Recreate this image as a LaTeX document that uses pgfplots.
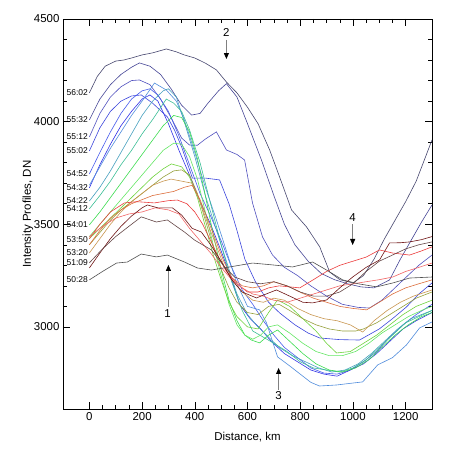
\documentclass[border=0pt]{standalone}
\usepackage{fontspec}
\setmainfont{Liberation Sans}
\usepackage{pgfplots}
\pgfplotsset{compat=1.18}
\usetikzlibrary{arrows.meta}
\definecolor{c1}{RGB}{70,70,110}
\definecolor{c2}{RGB}{70,70,150}
\definecolor{c3}{RGB}{80,80,190}
\definecolor{c4}{RGB}{60,70,220}
\definecolor{c5}{RGB}{70,90,235}
\definecolor{c6}{RGB}{50,50,230}
\definecolor{c7}{RGB}{80,140,220}
\definecolor{c8}{RGB}{70,160,190}
\definecolor{c9}{RGB}{60,190,150}
\definecolor{c10}{RGB}{60,220,80}
\definecolor{c11}{RGB}{100,230,100}
\definecolor{c12}{RGB}{110,210,60}
\definecolor{c13}{RGB}{150,160,60}
\definecolor{c14}{RGB}{200,150,80}
\definecolor{c15}{RGB}{220,110,60}
\definecolor{c16}{RGB}{235,60,60}
\definecolor{c17}{RGB}{240,100,100}
\definecolor{c18}{RGB}{110,20,20}
\definecolor{c19}{RGB}{100,70,70}
\definecolor{c20}{RGB}{80,80,80}
\newcommand{\tickfont}{\fontsize{11.5}{12}\selectfont}
\newcommand{\timefont}{\fontsize{8.5}{9}\selectfont}

\begin{document}
\begin{tikzpicture}[
  tlab/.style={anchor=east, font=\timefont, inner sep=0.8bp},
  arr/.style={gray, line width=0.8bp, -{Triangle[black,length=6bp,width=5bp]}},
]
\begin{axis}[
  at={(0,0)}, anchor=south west,
  scale only axis, width=369bp, height=390bp,
  xmin=-100, xmax=1300, ymin=2600, ymax=4500,
  xtick={0,200,...,1200}, ytick={3000,3500,4000,4500},
  minor x tick num=3, minor y tick num=4,
  xtick pos=both, ytick pos=both,
  tick align=inside,
  major tick length=7bp, minor tick length=4bp,
  tick style={black, line width=0.5bp},
  axis line style={black, line width=0.6bp},
  tick label style={font=\tickfont},
  label style={font=\tickfont},
  /pgf/number format/assume math mode=true,
  /pgf/number format/1000 sep={},
  xlabel={Distance, km}, ylabel={Intensity Profiles, DN},
  xlabel style={at={(axis description cs:0.5,-0.072)}, anchor=center},
  ylabel style={at={(axis description cs:-0.095,0.5)}, anchor=center},
  every axis plot/.append style={line width=0.6bp, no marks},
]
% 56:02
\addplot[c1] coordinates {(0,4140)(30,4220)(60,4270)(100,4295)(130,4300)(160,4310)(200,4325)(240,4335)(292,4354)(330,4340)(360,4325)(400,4310)(440,4285)(482,4252)(520,4193)(560,4140)(600,4070)(640,3990)(684,3862)(722,3730)(767,3570)(824,3487)(874,3390)(912,3267)(950,3230)(1000,3214)(1040,3250)(1080,3330)(1120,3430)(1160,3520)(1200,3610)(1240,3710)(1270,3810)(1300,3911)};
% 55:32
\addplot[c2] coordinates {(0,4008)(40,4110)(80,4180)(120,4230)(160,4265)(190,4286)(230,4270)(270,4230)(310,4160)(350,4080)(388,4032)(420,4040)(450,4090)(490,4150)(520,4185)(560,4120)(600,3990)(653,3813)(700,3640)(740,3500)(780,3400)(830,3320)(880,3260)(930,3230)(980,3210)(1030,3195)(1080,3190)(1139,3229)(1180,3330)(1220,3420)(1260,3510)(1300,3594)};
% 55:12
\addplot[c3] coordinates {(0,3925)(40,4040)(80,4120)(120,4170)(160,4200)(190,4203)(230,4180)(270,4110)(310,4020)(350,3920)(380,3886)(410,3885)(440,3915)(482,3950)(520,3862)(560,3840)(589,3813)(619,3604)(657,3438)(695,3350)(740,3290)(790,3250)(840,3200)(900,3150)(960,3110)(1020,3095)(1063,3092)(1110,3130)(1151,3180)(1200,3240)(1250,3300)(1300,3350)};
% 55:02
\addplot[c4] coordinates {(0,3857)(40,3970)(80,4050)(120,4100)(160,4125)(197,4130)(240,4090)(296,4023)(323,3959)(350,3877)(391,3725)(440,3725)(494,3716)(530,3600)(560,3470)(590,3330)(630,3220)(680,3120)(722,3068)(780,3010)(830,2970)(874,2946)(950,2938)(1025,2936)(1100,2990)(1150,3040)(1203,3097)(1250,3160)(1300,3214)};
% 54:52
\addplot[c5] coordinates {(0,3745)(40,3850)(80,3950)(120,4040)(160,4110)(200,4150)(230,4160)(260,4130)(300,4050)(340,3930)(380,3790)(420,3650)(460,3540)(500,3420)(540,3290)(580,3180)(620,3110)(660,3030)(700,2960)(740,2900)(790,2850)(840,2800)(890,2775)(940,2770)(990,2790)(1040,2830)(1090,2880)(1140,2950)(1190,3010)(1240,3060)(1300,3110)};
% 54:32
\addplot[c6] coordinates {(0,3677)(40,3790)(80,3890)(120,3980)(160,4050)(200,4110)(230,4130)(260,4100)(300,3990)(340,3860)(380,3740)(420,3610)(460,3500)(500,3370)(540,3230)(570,3110)(610,3040)(650,2990)(690,2930)(740,2870)(790,2830)(840,2790)(890,2770)(940,2760)(990,2790)(1040,2820)(1090,2870)(1140,2930)(1190,2990)(1240,3030)(1300,3070)};
\addplot[c7] coordinates {(0,3690)(40,3780)(80,3870)(120,3950)(160,4030)(200,4100)(247,4188)(292,4154)(330,4100)(360,4010)(400,3850)(440,3680)(480,3530)(520,3370)(560,3210)(600,3100)(646,3083)(672,3020)(714,2854)(760,2810)(800,2770)(840,2730)(873,2712)(938,2717)(990,2725)(1037,2732)(1094,2815)(1150,2850)(1203,2912)(1253,2995)(1300,3024)};
% 54:22
\addplot[c8] coordinates {(0,3613)(40,3680)(80,3760)(120,3850)(160,3940)(200,4030)(240,4100)(280,4150)(300,4160)(330,4120)(360,4000)(400,3830)(440,3640)(480,3480)(520,3320)(560,3160)(600,3060)(640,3000)(680,2950)(720,2900)(770,2860)(820,2830)(870,2800)(920,2780)(970,2790)(1020,2820)(1070,2870)(1120,2930)(1170,2990)(1220,3040)(1260,3060)(1300,3080)};
% 54:12
\addplot[c9] coordinates {(0,3575)(40,3640)(80,3710)(120,3790)(160,3860)(200,3940)(240,4010)(292,4110)(320,4090)(350,4050)(380,3960)(420,3800)(460,3600)(500,3400)(540,3220)(580,3080)(620,2980)(660,2950)(700,2920)(750,2880)(800,2830)(850,2800)(900,2790)(950,2780)(1000,2800)(1050,2840)(1100,2900)(1150,2960)(1200,3020)(1250,3050)(1300,3080)};
% 54:01
\addplot[c10] coordinates {(0,3497)(40,3560)(80,3630)(120,3700)(160,3770)(200,3840)(240,3910)(280,3980)(320,4030)(350,4020)(380,3950)(410,3820)(440,3640)(470,3450)(500,3280)(530,3130)(560,3030)(590,2960)(615,2936)(646,2922)(680,2960)(714,2985)(760,2930)(810,2870)(860,2820)(910,2790)(960,2780)(1010,2800)(1060,2840)(1110,2900)(1160,2960)(1210,3010)(1260,3050)(1300,3070)};
% 53:50
\addplot[c11] coordinates {(0,3440)(40,3500)(80,3560)(120,3620)(160,3680)(200,3740)(240,3800)(280,3860)(320,3895)(350,3890)(380,3830)(410,3720)(440,3560)(470,3400)(500,3250)(530,3110)(560,3010)(590,2960)(620,2940)(650,2960)(680,3000)(714,3010)(760,2970)(810,2920)(860,2880)(910,2860)(960,2860)(1010,2880)(1060,2920)(1110,2970)(1160,3010)(1210,3050)(1260,3080)(1300,3100)};
\addplot[c12] coordinates {(0,3430)(40,3480)(80,3530)(120,3580)(160,3630)(200,3680)(240,3730)(280,3770)(311,3794)(350,3780)(380,3730)(410,3630)(440,3490)(470,3350)(500,3230)(530,3120)(560,3050)(600,3000)(640,2990)(680,3070)(714,3131)(760,3100)(810,3040)(860,2980)(900,2920)(938,2873)(990,2880)(1040,2920)(1090,2960)(1140,3010)(1190,3060)(1240,3100)(1300,3130)};
\addplot[c13] coordinates {(0,3400)(40,3460)(80,3520)(120,3570)(160,3610)(200,3650)(240,3690)(280,3730)(320,3760)(350,3765)(380,3740)(410,3650)(440,3520)(470,3390)(500,3280)(530,3190)(560,3120)(600,3070)(640,3060)(680,3100)(720,3110)(760,3080)(810,3040)(860,3010)(910,2990)(960,2980)(1010,2980)(1040,2990)(1090,3020)(1140,3060)(1190,3100)(1240,3140)(1300,3170)};
% 53:20
\addplot[c14] coordinates {(0,3360)(40,3430)(80,3500)(120,3560)(160,3610)(200,3650)(240,3690)(280,3710)(310,3720)(350,3710)(390,3700)(420,3610)(450,3500)(480,3400)(510,3300)(540,3230)(580,3170)(620,3130)(660,3120)(700,3140)(740,3130)(790,3090)(840,3060)(890,3040)(940,3030)(990,3010)(1037,2975)(1080,3030)(1130,3080)(1180,3120)(1230,3150)(1300,3180)};
\addplot[c15] coordinates {(0,3400)(40,3470)(80,3530)(120,3570)(160,3600)(200,3620)(240,3640)(280,3650)(320,3660)(360,3680)(390,3690)(420,3620)(450,3520)(480,3420)(510,3320)(540,3240)(580,3200)(620,3190)(660,3200)(700,3220)(750,3200)(798,3170)(850,3140)(900,3120)(950,3100)(1000,3090)(1052,3083)(1100,3120)(1150,3160)(1200,3190)(1250,3210)(1300,3229)};
\addplot[c16] coordinates {(0,3430)(40,3500)(80,3560)(133,3604)(180,3610)(247,3604)(300,3615)(334,3618)(370,3600)(400,3560)(430,3500)(460,3420)(490,3340)(520,3270)(560,3210)(600,3170)(640,3170)(680,3190)(720,3200)(760,3195)(798,3190)(850,3230)(900,3270)(950,3300)(1000,3320)(1050,3340)(1101,3375)(1150,3360)(1215,3350)(1260,3370)(1300,3390)};
\addplot[c17] coordinates {(0,3440)(50,3490)(100,3530)(150,3550)(200,3560)(250,3580)(300,3570)(340,3550)(380,3480)(420,3420)(460,3360)(500,3290)(540,3230)(580,3190)(620,3160)(660,3150)(700,3130)(750,3120)(800,3140)(850,3160)(900,3180)(950,3200)(1000,3210)(1050,3220)(1100,3230)(1151,3243)(1200,3270)(1250,3290)(1300,3311)};
% dark red
\addplot[c18] coordinates {(0,3287)(40,3360)(80,3430)(120,3490)(160,3540)(200,3580)(220,3594)(260,3580)(315,3580)(350,3545)(390,3480)(425,3462)(460,3400)(500,3320)(540,3230)(580,3170)(634,3141)(670,3160)(710,3180)(760,3150)(810,3120)(847,3117)(900,3131)(950,3190)(999,3243)(1050,3290)(1101,3326)(1139,3409)(1180,3410)(1215,3414)(1260,3425)(1300,3440)};
% 51:09
\addplot[c19] coordinates {(0,3312)(50,3380)(100,3440)(150,3490)(197,3536)(254,3511)(296,3521)(330,3490)(361,3462)(399,3423)(463,3375)(513,3292)(551,3243)(600,3220)(650,3210)(700,3220)(750,3200)(800,3170)(850,3150)(900,3150)(950,3170)(1000,3210)(1050,3270)(1100,3320)(1150,3350)(1200,3380)(1250,3400)(1300,3414)};
% 50:28
\addplot[c20] coordinates {(0,3229)(50,3270)(103,3311)(144,3316)(197,3355)(254,3341)(296,3350)(361,3316)(410,3287)(463,3277)(532,3292)(619,3311)(695,3302)(771,3292)(847,3316)(900,3277)(961,3229)(1020,3210)(1090,3195)(1151,3214)(1215,3238)(1300,3243)};

\node[tlab] at (axis cs:-2,4140) {56:02};
\node[tlab] at (axis cs:-2,4008) {55:32};
\node[tlab] at (axis cs:-2,3925) {55:12};
\node[tlab] at (axis cs:-2,3857) {55:02};
\node[tlab] at (axis cs:-2,3745) {54:52};
\node[tlab] at (axis cs:-2,3677) {54:32};
\node[tlab] at (axis cs:-2,3613) {54:22};
\node[tlab] at (axis cs:-2,3575) {54:12};
\node[tlab] at (axis cs:-2,3497) {54:01};
\node[tlab] at (axis cs:-2,3424) {53:50};
\node[tlab] at (axis cs:-2,3360) {53:20};
\node[tlab] at (axis cs:-2,3312) {51:09};
\node[tlab] at (axis cs:-2,3229) {50:28};

\draw[arr] (axis cs:300,3097) -- (axis cs:300,3302);
\node[font=\tickfont] at (axis cs:297,3065) {1};
\draw[arr] (axis cs:520,4398) -- (axis cs:520,4305);
\node[font=\tickfont] at (axis cs:520,4435) {2};
\draw[arr] (axis cs:718,2693) -- (axis cs:718,2800);
\node[font=\tickfont] at (axis cs:718,2665) {3};
\draw[arr] (axis cs:999,3500) -- (axis cs:999,3399);
\node[font=\tickfont] at (axis cs:999,3535) {4};
\end{axis}
\pgfresetboundingbox
\path[use as bounding box] (-63bp,-41bp) rectangle (387bp,409bp);
\end{tikzpicture}
\end{document}
